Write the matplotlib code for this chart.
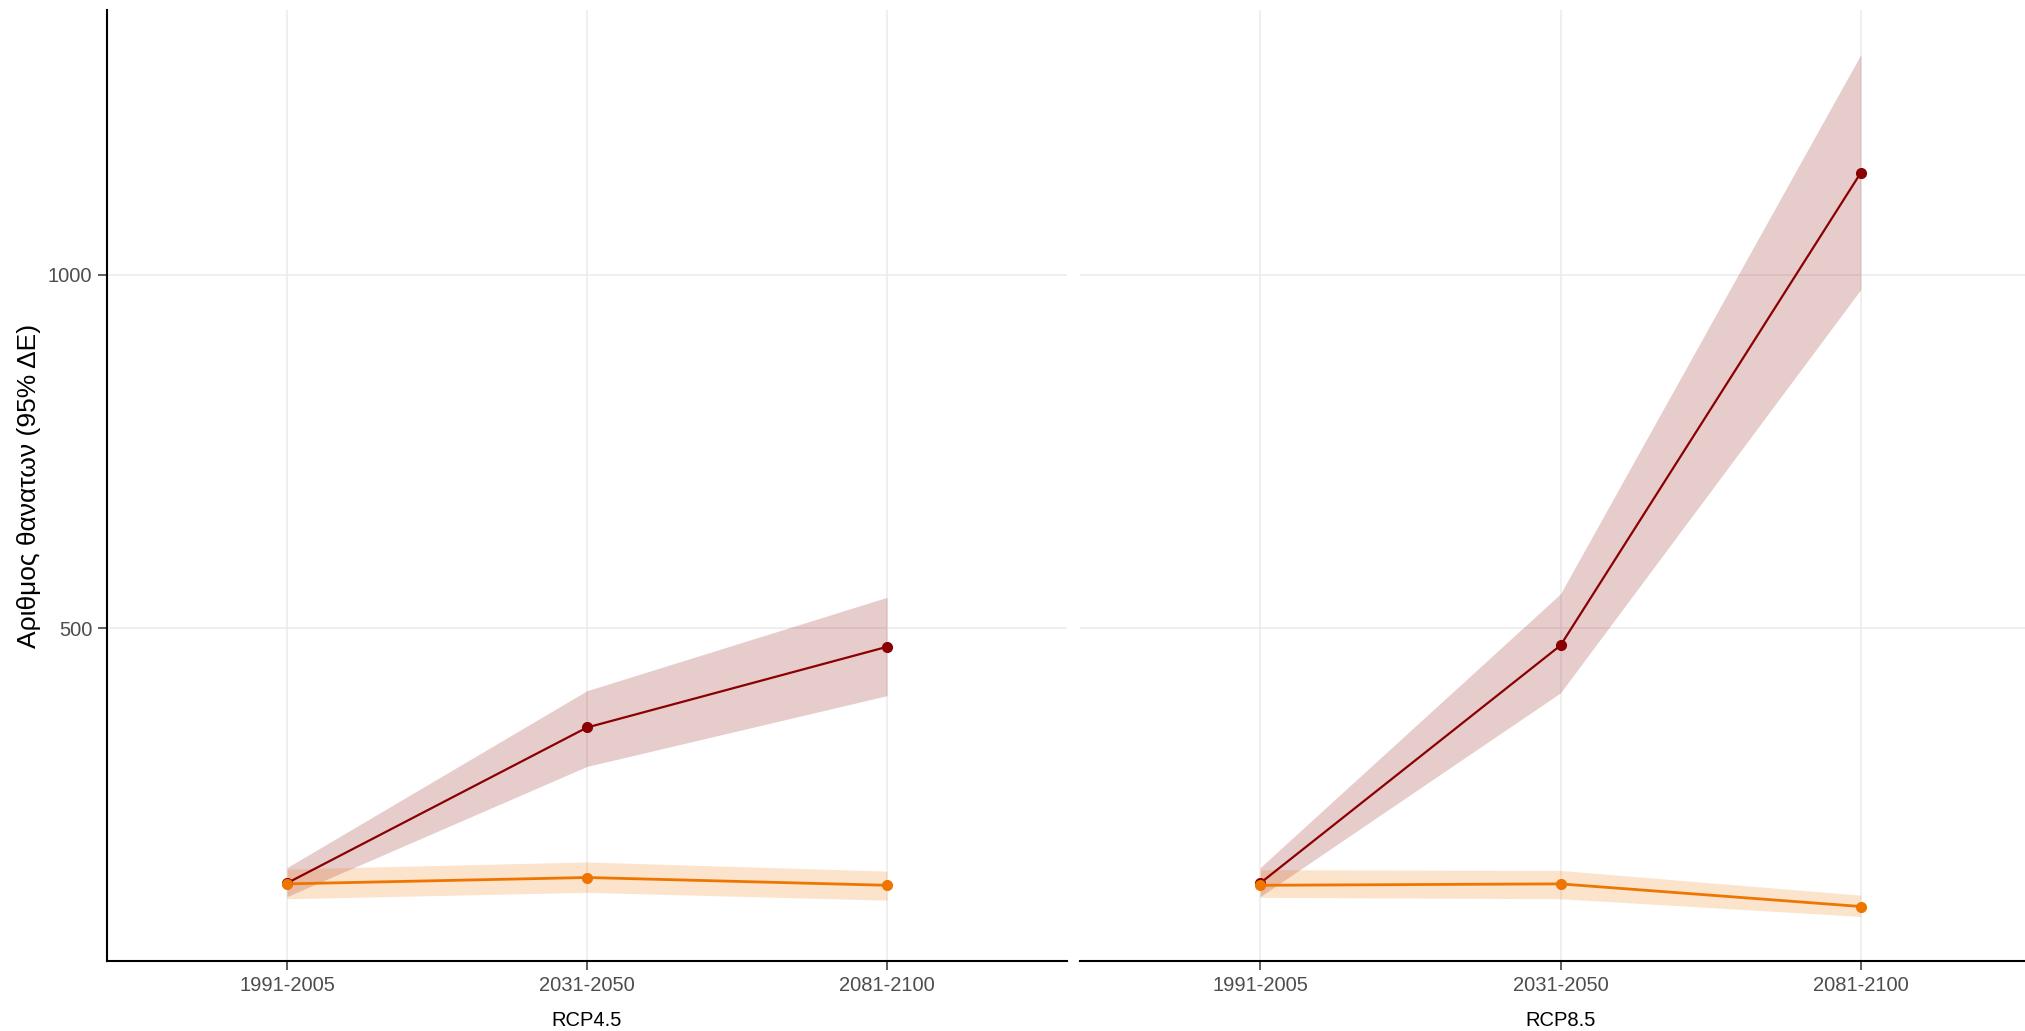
import numpy as np
import matplotlib.pyplot as plt

# periods on the x axis and the two scenarios
periods = ['1991-2005', '2031-2050', '2081-2100']
scenarios = ['RCP4.5', 'RCP8.5']

# dark red series (estimate, lower, upper) per scenario
red_mid = {'RCP4.5': [140, 360, 474], 'RCP8.5': [140, 476, 1144]}
red_low = {'RCP4.5': [121, 305, 405], 'RCP8.5': [121, 409, 979]}
red_high = {'RCP4.5': [162, 412, 544], 'RCP8.5': [162, 549, 1311]}

# orange series
org_mid = {'RCP4.5': [139, 148, 137], 'RCP8.5': [137, 139, 107]}
org_low = {'RCP4.5': [118, 127, 116], 'RCP8.5': [120, 118, 93]}
org_high = {'RCP4.5': [160, 170, 157], 'RCP8.5': [159, 158, 123]}

y_ticks = [500, 1000]

RED = '#8B0000'
ORANGE = '#EE7600'
TXT = '#4D4D4D'
GRID = '#EBEBEB'

plt.rcParams['font.family'] = ['Liberation Sans', 'DejaVu Sans']

fig = plt.figure(figsize=(20.25, 10.31), dpi=100)
W, H = 2025, 1031
bottom = (H - 961) / H
height = (961 - 10) / H
ax1 = fig.add_axes([107 / W, bottom, 960 / W, height])
ax2 = fig.add_axes([1080 / W, bottom, 961 / W, height])

x = np.arange(1, len(periods) + 1)

for ax, sc in zip([ax1, ax2], scenarios):
    ax.fill_between(x, red_low[sc], red_high[sc], color=RED, alpha=0.2,
                    linewidth=0, zorder=2)
    ax.fill_between(x, org_low[sc], org_high[sc], color=ORANGE, alpha=0.2,
                    linewidth=0, zorder=2)
    ax.plot(x, red_mid[sc], color=RED, linewidth=1.6, zorder=3)
    ax.plot(x, org_mid[sc], color=ORANGE, linewidth=2.0, zorder=3)
    ax.plot(x, red_mid[sc], 'o', color=RED, markersize=7, zorder=4)
    ax.plot(x, org_mid[sc], 'o', color=ORANGE, markersize=7, zorder=4)

    ax.set_xlim(0.4, 3.6)
    ax.set_ylim(30, 1374)
    ax.set_xticks(x)
    ax.set_xticklabels(periods)
    ax.set_yticks(y_ticks)
    ax.grid(True, color=GRID, linewidth=1.1)
    ax.set_axisbelow(True)
    ax.set_xlabel(sc, fontsize=14.5, color='black', labelpad=12)
    ax.tick_params(axis='both', labelsize=14.5, labelcolor=TXT, color='#333333',
                   length=6.5, width=1.1, pad=4)
    for s in ['top', 'right']:
        ax.spines[s].set_visible(False)
    ax.spines['bottom'].set_linewidth(1.5)
    ax.spines['left'].set_linewidth(1.5)

ax2.spines['left'].set_visible(False)
ax2.tick_params(axis='y', left=False, labelleft=False)

ax1.set_ylabel('Αριθμος θανατων (95% ΔΕ)', fontsize=19, color='black', labelpad=5)

fig.savefig('out.png', dpi=100)
